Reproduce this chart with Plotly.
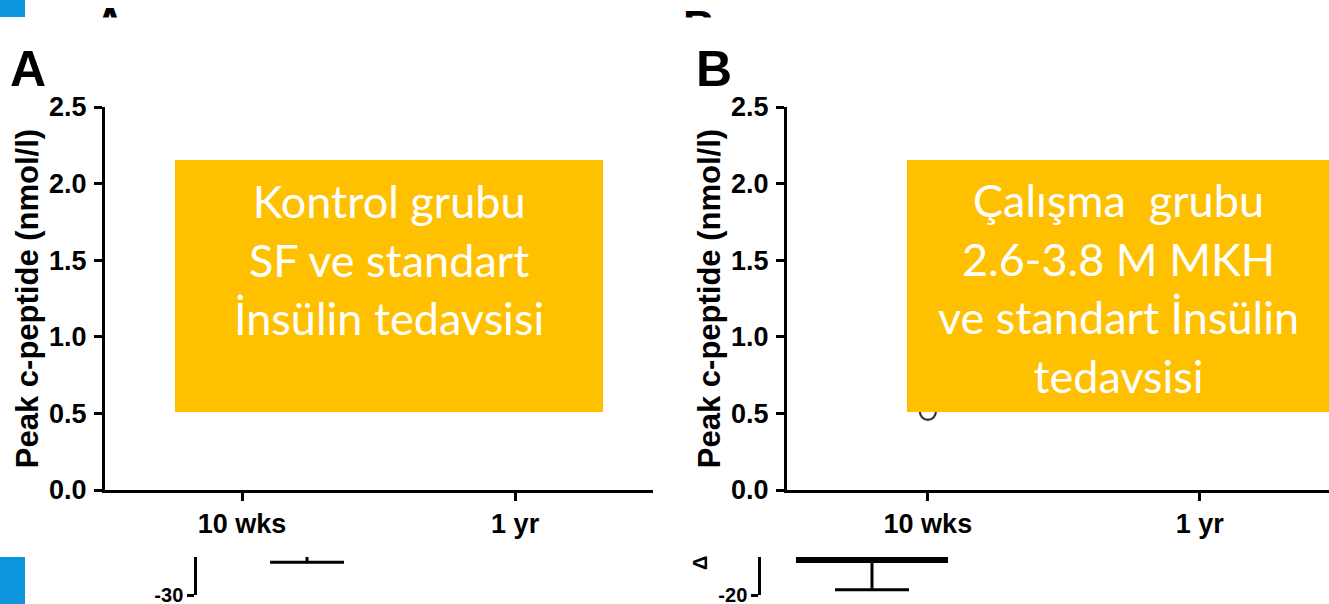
import plotly.graph_objects as go

W, H = 1329, 604

# ---- data -------------------------------------------------------------
categories = ["10 wks", "1 yr"]
peak_ticks = [0.0, 0.5, 1.0, 1.5, 2.0, 2.5]
peak_tick_text = ["0.0", "0.5", "1.0", "1.5", "2.0", "2.5"]

# study group, peak c-peptide at 10 weeks (open circle)
study_peak_cat = ["10 wks"]
study_peak_val = [0.51]

# change from baseline (lower panels, partly shown)
control_change_cat = ["10 wks"]
control_change_mean = [-24.2]
control_change_err = [1.5]
study_change_cat = ["10 wks"]
study_change_mean = [-15.4]
study_change_err = [3.9]

box_a_text = ["Kontrol grubu", "SF ve standart", "İnsülin tedavsisi"]
box_b_text = ["Çalışma\u00a0 grubu", "2.6-3.8 M MKH", "ve standart İnsülin", "tedavsisi"]


def px(x):
    return x / W


def py(y):
    return 1 - y / H


ARIAL = "Liberation Sans, Arial, sans-serif"
BOXFONT = "Lato, Open Sans, sans-serif"
GOLD = "#FFC000"
BLUE = "#0D96DB"

fig = go.Figure()

# panel A axes (its points sit beneath the caption box)
fig.add_trace(go.Scatter(x=[], y=[], mode="markers", xaxis="x", yaxis="y",
                         showlegend=False, hoverinfo="skip"))

# open circle in panel B
fig.add_trace(go.Scatter(
    x=study_peak_cat, y=study_peak_val, mode="markers",
    marker=dict(symbol="circle-open", size=16, color="#333333", line=dict(width=2.2)),
    xaxis="x2", yaxis="y2", showlegend=False, hoverinfo="skip"))

# lower panels: hollow bars with error bars
fig.add_trace(go.Bar(
    x=control_change_cat, y=control_change_mean, width=0.54,
    marker=dict(color="white", line=dict(color="black", width=6)),
    error_y=dict(type="data", array=control_change_err, color="black", thickness=3, width=37),
    xaxis="x3", yaxis="y3", showlegend=False, hoverinfo="skip"))
fig.add_trace(go.Bar(
    x=study_change_cat, y=study_change_mean, width=0.537,
    marker=dict(color="white", line=dict(color="black", width=6)),
    error_y=dict(type="data", array=study_change_err, color="black", thickness=3, width=37),
    xaxis="x4", yaxis="y4", showlegend=False, hoverinfo="skip"))

tickfont = dict(family=ARIAL, size=27, color="black", weight="bold")

xcommon = dict(type="category", categoryarray=categories, categoryorder="array",
               showline=True, linewidth=3, linecolor="black", ticks="outside",
               ticklen=8, tickwidth=2.5, tickcolor="black", tickfont=tickfont,
               showgrid=False, zeroline=False, fixedrange=True, automargin=False)
ycommon = dict(range=[0, 2.5], tickvals=peak_ticks, ticktext=peak_tick_text,
               showline=True, linewidth=3, linecolor="black", ticks="outside",
               ticklen=8, tickwidth=2.5, tickcolor="black", tickfont=tickfont,
               showgrid=False, zeroline=False, fixedrange=True, ticklabelstandoff=2,
               automargin=False,
               title=dict(text="Peak c-peptide (nmol/l)",
                          font=dict(family=ARIAL, size=31, color="black", weight="bold"),
                          standoff=2))

lowx = dict(type="category", categoryarray=categories, categoryorder="array",
            visible=False, fixedrange=True, automargin=False)
lowy = dict(showline=True, linewidth=2.5, linecolor="black", ticks="outside",
            ticklen=7, tickwidth=2.5, tickcolor="black", showgrid=False, zeroline=False,
            tickfont=dict(family=ARIAL, size=20, color="black", weight="bold"),
            ticklabeloverflow="allow", fixedrange=True, automargin=False)

fig.update_layout(
    width=W, height=H, margin=dict(l=0, r=0, t=0, b=0, pad=0, autoexpand=False),
    paper_bgcolor="white", plot_bgcolor="rgba(0,0,0,0)",
    barmode="overlay",
    xaxis=dict(xcommon, domain=[px(105), px(653)], range=[-0.502, 1.505], anchor="y"),
    yaxis=dict(ycommon, domain=[py(490), py(107)], anchor="x"),
    xaxis2=dict(xcommon, domain=[px(787), 1.0], range=[-0.518, 1.475], anchor="y2"),
    yaxis2=dict(ycommon, domain=[py(490), py(107)], anchor="x2"),
    xaxis3=dict(lowx, domain=[px(197), px(650)], range=[-0.403, 1.256], anchor="y3"),
    yaxis3=dict(lowy, domain=[py(595), py(557)], range=[-30, -25], tickvals=[-30],
                ticktext=["-30"], anchor="x3"),
    xaxis4=dict(lowx, domain=[px(761), 1.0], range=[-0.408, 1.68], anchor="y4"),
    yaxis4=dict(lowy, domain=[py(595), py(557)], range=[-20, -15], tickvals=[-20],
                ticktext=["-20"], anchor="x4"),
)

shapes = [
    # blue slide markers
    dict(type="rect", xref="paper", yref="paper", x0=0, x1=px(25), y0=py(17), y1=1,
         fillcolor=BLUE, line=dict(width=0), layer="above"),
    dict(type="rect", xref="paper", yref="paper", x0=0, x1=px(25), y0=0, y1=py(557),
         fillcolor=BLUE, line=dict(width=0), layer="above"),
    # gold caption boxes
    dict(type="rect", xref="paper", yref="paper", x0=px(175), x1=px(603), y0=py(412), y1=py(160),
         fillcolor=GOLD, line=dict(width=0), layer="above"),
    dict(type="rect", xref="paper", yref="paper", x0=px(907), x1=1.0, y0=py(412), y1=py(160),
         fillcolor=GOLD, line=dict(width=0), layer="above"),
]
fig.update_layout(shapes=shapes)

letter_font = dict(family=ARIAL, size=50, color="black", weight="bold")
box_font = dict(family=BOXFONT, size=45, color="white")
small_letter = dict(family=ARIAL, size=44, color="black", weight="bold")
ann = [
    # clipped panel letters at the very top, covered below by a white strip
    dict(text="A", x=px(110), y=py(24), xref="paper", yref="paper", xanchor="center",
         yanchor="middle", showarrow=False, font=small_letter),
    dict(text="B", x=px(699), y=py(26), xref="paper", yref="paper", xanchor="center",
         yanchor="middle", showarrow=False, font=small_letter),
    dict(text=" ", x=px(110), y=py(17), xref="paper", yref="paper", xanchor="center",
         yanchor="top", showarrow=False, width=60, height=30, bgcolor="white", borderpad=0),
    dict(text=" ", x=px(699), y=py(17), xref="paper", yref="paper", xanchor="center",
         yanchor="top", showarrow=False, width=60, height=30, bgcolor="white", borderpad=0),
    # panel letters
    dict(text="A", x=px(8), y=py(69), xref="paper", yref="paper", xanchor="left",
         yanchor="middle", showarrow=False, font=letter_font),
    dict(text="B", x=px(694), y=py(69), xref="paper", yref="paper", xanchor="left",
         yanchor="middle", showarrow=False, font=letter_font),
    # captions inside the gold boxes
    dict(text="<br>".join(box_a_text), x=px(389), y=py(259), xref="paper", yref="paper",
         xanchor="center", yanchor="middle", align="center", showarrow=False, font=box_font),
    dict(text="<br>".join(box_b_text), x=px(1118), y=py(288), xref="paper", yref="paper",
         xanchor="center", yanchor="middle", align="center", showarrow=False, font=box_font),
    # start of the lower panel's axis title
    dict(text="Δ", x=px(700), y=py(563), xref="paper", yref="paper", xanchor="center",
         yanchor="middle", textangle=-90, showarrow=False,
         font=dict(family=ARIAL, size=20, color="black", weight="bold")),
]
fig.update_layout(annotations=ann)

fig.write_html("out.html")
